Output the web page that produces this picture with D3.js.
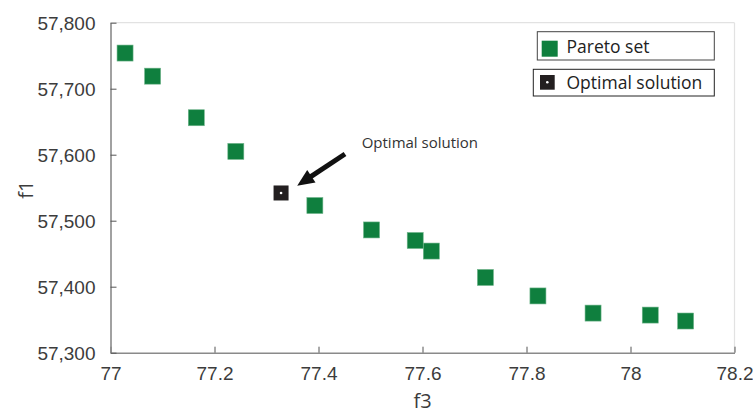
<!DOCTYPE html>
<html>
<head>
<meta charset="utf-8">
<script src="https://cdn.jsdelivr.net/npm/d3@7"></script>
<style>
  html, body { margin: 0; padding: 0; background: #fff; }
  svg { display: block; font-family: "Open Sans", "Noto Sans", sans-serif; }
</style>
</head>
<body>
<svg id="chart" width="753" height="414"></svg>
<script>
// Pareto front: f3 (x) vs f1 (y)
const paretoF3 = [77.028, 77.081, 77.165, 77.241, 77.393, 77.502, 77.586, 77.617, 77.721, 77.822, 77.928, 78.038, 78.106];
const paretoF1 = [57754, 57719, 57656, 57605, 57523, 57486, 57470, 57454, 57414, 57386, 57360, 57357, 57348];

// Chosen compromise solution
const optimalF3 = [77.328];
const optimalF1 = [57542];

const xTicks = [77, 77.2, 77.4, 77.6, 77.8, 78, 78.2];
const yTicks = [57300, 57400, 57500, 57600, 57700, 57800];

const legendLabels = ["Pareto set", "Optimal solution"];
const annotationText = "Optimal solution";

const W = 753, H = 414;
const margin = { top: 22.7, right: 18.5, bottom: 61.3, left: 110.5 };
const iw = W - margin.left - margin.right;
const ih = H - margin.top - margin.bottom;

const green = "#0f7f3e";
const black = "#231f20";

const svg = d3.select("#chart");
const g = svg.append("g").attr("transform", `translate(${margin.left},${margin.top})`);

const x = d3.scaleLinear().domain([77, 78.2]).range([0, iw]);
const y = d3.scaleLinear().domain([57300, 57800]).range([ih, 0]);

// Light box on top and right
g.append("line").attr("x1", 0).attr("x2", iw).attr("y1", 0).attr("y2", 0)
  .attr("stroke", "#e2e2e2").attr("stroke-width", 1.2);
g.append("line").attr("x1", iw).attr("x2", iw).attr("y1", 0).attr("y2", ih)
  .attr("stroke", "#e2e2e2").attr("stroke-width", 1.2);

// Axes with inward ticks
const xAxis = d3.axisBottom(x).tickValues(xTicks).tickSizeInner(-6).tickSizeOuter(0)
  .tickPadding(14).tickFormat(d3.format("~g"));
const yAxis = d3.axisLeft(y).tickValues(yTicks).tickSizeInner(-6).tickSizeOuter(0)
  .tickPadding(15).tickFormat(d3.format(","));

const gx = g.append("g").attr("transform", `translate(0,${ih})`).call(xAxis);
const gy = g.append("g").call(yAxis);

[gx, gy].forEach(a => {
  a.select(".domain").attr("stroke", "#8a8a8a").attr("stroke-width", 1.6);
  a.selectAll(".tick line").attr("stroke", "#555").attr("stroke-width", 1);
  a.selectAll(".tick text").attr("fill", "#3c3c3c").style("font-size", "19px");
});
gy.selectAll(".tick text").attr("dy", "0.36em");

// Axis titles
svg.append("text").attr("x", margin.left + iw / 2).attr("y", 408)
  .attr("text-anchor", "middle").attr("fill", "#3c3c3c").style("font-size", "20px").text("f3");
svg.append("text").attr("transform", `translate(33,${margin.top + ih / 2 + 2}) rotate(-90)`)
  .attr("text-anchor", "middle").attr("fill", "#3c3c3c").style("font-size", "20px").text("f1");

// Pareto markers
const S = 16;
const pareto = paretoF3.map((v, i) => ({ f3: v, f1: paretoF1[i] }));
g.selectAll("rect.pareto").data(pareto).enter().append("rect")
  .attr("class", "pareto")
  .attr("x", d => x(d.f3) - S / 2).attr("y", d => y(d.f1) - S / 2)
  .attr("width", S).attr("height", S)
  .attr("fill", green).attr("stroke", "#6fb48a").attr("stroke-width", 0.6);

// Optimal marker
const SO = 15;
const optimal = optimalF3.map((v, i) => ({ f3: v, f1: optimalF1[i] }));
const og = g.selectAll("g.opt").data(optimal).enter().append("g").attr("class", "opt");
og.append("rect")
  .attr("x", d => x(d.f3) - SO / 2).attr("y", d => y(d.f1) - SO / 2)
  .attr("width", SO).attr("height", SO).attr("fill", black);
og.append("circle").attr("cx", d => x(d.f3)).attr("cy", d => y(d.f1)).attr("r", 1.3).attr("fill", "#fff");

// Annotation arrow and label
const arrowTail = { f3: 77.451, f1: 57601 };
const arrowTip = { f3: 77.359, f1: 57553 };
const tx = x(arrowTail.f3), ty = y(arrowTail.f1);
const hx = x(arrowTip.f3), hy = y(arrowTip.f1);
const ang = Math.atan2(hy - ty, hx - tx);
const headLen = 17, headHalf = 7.5;
const bx = hx - headLen * Math.cos(ang), by = hy - headLen * Math.sin(ang);
g.append("line").attr("x1", tx).attr("y1", ty).attr("x2", bx + 2 * Math.cos(ang)).attr("y2", by + 2 * Math.sin(ang))
  .attr("stroke", "#111").attr("stroke-width", 5);
const px = -Math.sin(ang), py = Math.cos(ang);
g.append("path")
  .attr("d", `M${hx},${hy} L${bx + headHalf * px},${by + headHalf * py} L${bx - headHalf * px},${by - headHalf * py} Z`)
  .attr("fill", "#111");

g.append("text").attr("x", x(77.483)).attr("y", y(57610))
  .attr("fill", "#333").style("font-size", "15px").text(annotationText);

// Legend: two separate boxes
const legend = svg.append("g");
const box1 = legend.append("g");
box1.append("rect").attr("x", 537.3).attr("y", 31.7).attr("width", 177).attr("height", 28.3)
  .attr("fill", "#fff").attr("stroke", "#444").attr("stroke-width", 1);
box1.append("rect").attr("x", 541.7).attr("y", 40.7).attr("width", 16).attr("height", 16).attr("fill", green);
box1.append("text").attr("x", 566.5).attr("y", 52.5).attr("fill", "#222").style("font-size", "17.5px").text(legendLabels[0]);

const box2 = legend.append("g");
box2.append("rect").attr("x", 533.3).attr("y", 69.3).attr("width", 181).attr("height", 26.7)
  .attr("fill", "#fff").attr("stroke", "#222").attr("stroke-width", 1);
box2.append("rect").attr("x", 540).attr("y", 75).attr("width", 14.7).attr("height", 14.7).attr("fill", black);
box2.append("circle").attr("cx", 547.3).attr("cy", 82.3).attr("r", 1.3).attr("fill", "#fff");
box2.append("text").attr("x", 566.5).attr("y", 88.5).attr("fill", "#222").style("font-size", "17.5px").text(legendLabels[1]);
</script>
</body>
</html>
